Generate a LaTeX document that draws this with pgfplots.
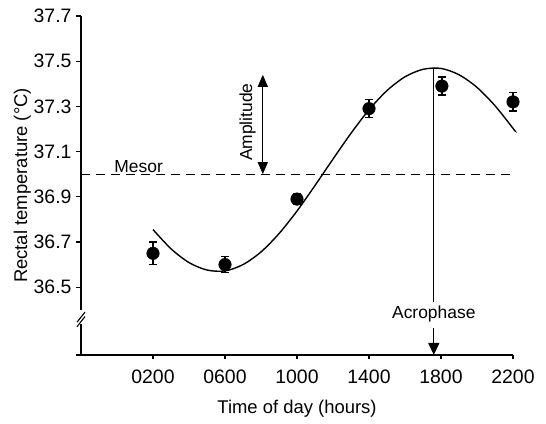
\documentclass[border=0pt]{standalone}
\usepackage{pgfplots}
\pgfplotsset{compat=1.18}
\usetikzlibrary{arrows.meta}
\usepackage{fontspec}
\setmainfont{Liberation Sans}
\begin{document}
\fontsize{17.5}{20}\selectfont
\begin{tikzpicture}
\begin{axis}[
  scale only axis,
  width=432bp, height=339bp,
  xmin=-2, xmax=22, ymin=36.2, ymax=37.7,
  axis lines=left,
  axis line style={-, line width=1.4bp},
  y axis line style={draw=none},
  tick align=outside,
  major tick length=4.5bp,
  tick style={line width=1.2bp, black},
  xtick={2,6,10,14,18,22},
  xticklabels={0200,0600,1000,1400,1800,2200},
  ytick={36.2,36.5,36.7,36.9,37.1,37.3,37.5,37.7},
  yticklabels={,36.5,36.7,36.9,37.1,37.3,37.5,37.7},
  /pgf/number format/assume math mode=true,
  ticklabel style={font=\fontsize{19.5}{22}\selectfont},
  yticklabel style={xshift=1bp},
  xticklabel style={yshift=-4bp},
  xlabel={Time of day (hours)},
  ylabel={Rectal temperature (°C)},
  label style={font=\fontsize{18.5}{21}\selectfont},
  xlabel style={yshift=-5bp},
  ylabel style={yshift=-9bp},
  clip=false,
]
% y axis with break
\draw[line width=1.4bp] (axis cs:-2,37.7) -- (axis cs:-2,36.40);
\draw[line width=1.4bp] (axis cs:-2,36.335) -- (axis cs:-2,36.2);
\draw[line width=1.1bp] ([xshift=-4bp]axis cs:-2,36.345) -- ([xshift=4bp]axis cs:-2,36.39);
\draw[line width=1.1bp] ([xshift=-4bp]axis cs:-2,36.325) -- ([xshift=4bp]axis cs:-2,36.37);
% bounding box like the reference
\path (rel axis cs:-0.1875,-0.1858) rectangle (rel axis cs:1.0764,1.0472);

% fitted curve
\addplot[black, line width=1.4bp, smooth, no markers] coordinates {
(2,36.755) (3,36.670) (4,36.609) (5,36.576) (6,36.572) (7,36.600)
(8,36.656) (9,36.737) (10,36.837) (11,36.950) (12,37.067) (13,37.181)
(14,37.285) (15,37.370) (16,37.431) (17,37.464) (18,37.468) (19,37.440)
(20,37.384) (21,37.303) (22,37.203) (22.1,37.192)
};

% mesor
\addplot[black, line width=1.3bp, dash pattern=on 9bp off 6bp, no markers] coordinates {(-2,37.0) (21.9,37.0)};
\node[anchor=south, inner sep=1.5bp] at (axis cs:1.2,37.0) {Mesor};

% data with error bars
\addplot[black, only marks, mark=*, mark size=6.3bp,
  error bars/.cd, y dir=both, y explicit,
  error bar style={line width=1.2bp},
  error mark options={rotate=90, mark size=3.8bp, line width=1.2bp}]
coordinates {
(2,36.65) +- (0,0.05)
(6,36.60) +- (0,0.035)
(10,36.89) +- (0,0.025)
(14,37.29) +- (0,0.04)
(18.05,37.39) +- (0,0.04)
(22,37.32) +- (0,0.04)
};

% amplitude
\draw[line width=1.3bp, {Triangle[width=10bp,length=12bp]}-{Triangle[width=10bp,length=12bp]}]
  (axis cs:8.1,37.0) -- (axis cs:8.1,37.44);
\node[rotate=90] at (axis cs:7.25,37.23) {Amplitude};

% acrophase
\draw[line width=1.2bp] (axis cs:17.6,37.47) -- (axis cs:17.6,36.434);
\node at (axis cs:17.6,36.38) {Acrophase};
\draw[line width=1.2bp, -{Triangle[width=11bp,length=12bp]}] (axis cs:17.6,36.32) -- (axis cs:17.6,36.2);
\end{axis}
\end{tikzpicture}
\end{document}
